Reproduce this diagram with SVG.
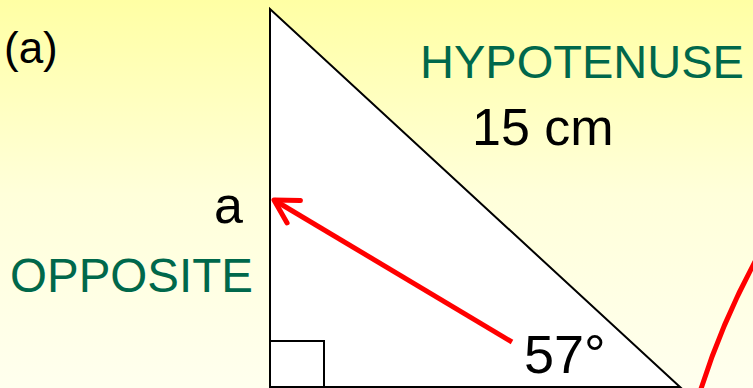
<svg xmlns="http://www.w3.org/2000/svg" width="753" height="388" viewBox="0 0 753 388">
  <defs>
    <linearGradient id="bg" x1="0" y1="0" x2="0" y2="1">
      <stop offset="0" stop-color="#FFFFA4"/>
      <stop offset="0.5" stop-color="#FFFFDA"/>
      <stop offset="1" stop-color="#FFFFEE"/>
    </linearGradient>
    <marker id="openArrow" markerUnits="userSpaceOnUse" markerWidth="40" markerHeight="40" refX="36" refY="20" orient="auto">
      <polyline points="13,7 36,20 13,33" fill="none" stroke="#FF0000" stroke-width="5" stroke-linecap="round" stroke-linejoin="round"/>
    </marker>
    <style>
      .lbl { font-family: "Liberation Sans", Arial, sans-serif; }
      .green { fill: #00684B; }
      .black { fill: #000000; }
    </style>
  </defs>
  <rect x="0" y="0" width="753" height="388" fill="url(#bg)"/>

  <g id="triangle">
    <polygon points="270,9 270,387 680,387" fill="#FFFFFF" stroke="#000000" stroke-width="2"/>
    <polyline points="270,341 324,341 324,387" fill="none" stroke="#000000" stroke-width="2"/>
  </g>

  <g id="connectors">
    <line x1="512" y1="342" x2="274" y2="200" stroke="#FF0000" stroke-width="5" marker-end="url(#openArrow)"/>
    <path d="M 700 392 Q 722 322 757 258" fill="none" stroke="#FF0000" stroke-width="5"/>
  </g>

  <g id="label-a-part">
    <text class="lbl black" x="4" y="63" font-size="44">(a)</text>
  </g>
  <g id="label-hypotenuse">
    <text class="lbl green" x="420" y="78" font-size="47">HYPOTENUSE</text>
  </g>
  <g id="label-15cm">
    <text class="lbl black" x="472" y="145" font-size="52">15 cm</text>
  </g>
  <g id="label-a">
    <text class="lbl black" x="214" y="223" font-size="52">a</text>
  </g>
  <g id="label-opposite">
    <text class="lbl green" x="10" y="292" font-size="47.5">OPPOSITE</text>
  </g>
  <g id="label-angle">
    <text class="lbl black" x="524" y="373" font-size="54">57°</text>
  </g>
</svg>
